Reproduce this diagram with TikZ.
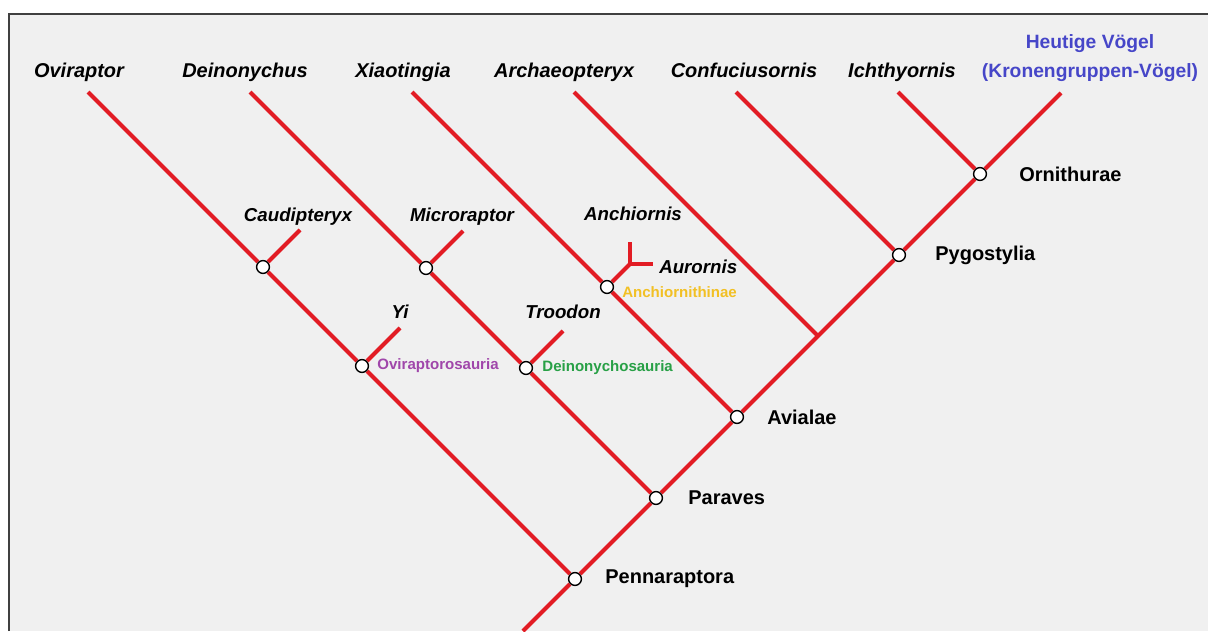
\documentclass[tikz,border=0pt]{standalone}
\usepackage{fontspec}
\setmainfont{Liberation Sans}
\usepackage{xcolor}
\usepackage{tikz}
\usetikzlibrary{positioning,backgrounds}
\definecolor{branchred}{RGB}{226,28,36}
\definecolor{framegray}{RGB}{64,64,64}
\definecolor{panelgray}{RGB}{240,240,240}
\definecolor{crownblue}{RGB}{70,70,200}
\definecolor{ovipurple}{RGB}{160,70,170}
\definecolor{deingreen}{RGB}{40,160,70}
\definecolor{anchyellow}{RGB}{242,192,36}

\begin{document}
\begin{tikzpicture}[x=0.025cm, y=-0.025cm,
  branch/.style={draw=branchred, line width=0.1cm},
  clade/.style={circle, draw=black, fill=white, line width=1pt, minimum size=0.32cm, inner sep=0pt},
  taxon/.style={font=\fontsize{14.2}{17}\selectfont\bfseries\itshape, inner sep=0pt, anchor=base},
  subtaxon/.style={font=\fontsize{13.3}{16}\selectfont\bfseries\itshape, inner sep=0pt, anchor=base},
  cladename/.style={font=\fontsize{14.2}{17}\selectfont\bfseries, inner sep=0pt},
  grouplabel/.style={font=\fontsize{10.7}{13}\selectfont\bfseries, inner sep=0pt}]
  \useasboundingbox (0,0) rectangle (1208,631);

  % main line
  \coordinate (root) at (523,631);
  \node[clade] (penna) at (575,579) {};
  \node[clade] (paraves) at (656,498) {};
  \node[clade] (avialae) at (737,417) {};
  \coordinate (archj) at (818,336);
  \node[clade] (pygo) at (899,255) {};
  \node[clade] (orni) at (980,174) {};
  \coordinate (crown) at (1061,93);

  % side clades
  \node[clade] (caud) at (263,267) {};
  \node[clade] (yi) at (362,366) {};
  \node[clade] (micro) at (426,268) {};
  \node[clade] (troo) at (526,368) {};
  \node[clade] (anch) at (607,287) {};

  \coordinate (ovitip) at (88,92);
  \coordinate (deintip) at (250,92);
  \coordinate (xiaotip) at (412,92);
  \coordinate (archtip) at (574,92);
  \coordinate (conftip) at (736,92);
  \coordinate (ichtip) at (898,92);
  \coordinate (caudtip) at (300,230);
  \coordinate (yitip) at (400,328);
  \coordinate (microtip) at (463,231);
  \coordinate (trootip) at (563,331);
  \coordinate (fork) at (630,264);
  \coordinate (anchtip) at (630,242);
  \coordinate (aurtip) at (653,264);

  % taxa on top
  \node[taxon] (ovilab) at (79,77) {Oviraptor};
  \node[taxon] (deinlab) at (245,77) {Deinonychus};
  \node[taxon] (xiaolab) at (403,77) {Xiaotingia};
  \node[taxon] (archlab) at (564,77) {Archaeopteryx};
  \node[taxon] (conflab) at (744,77) {Confuciusornis};
  \node[taxon] (ichlab) at (902,77) {Ichthyornis};
  \node[cladename, font=\fontsize{13.7}{20}\selectfont\bfseries, text=crownblue, align=center]
    (crownlab) at (1090,58) {Heutige Vögel\\(Kronengruppen-Vögel)};

  \node[subtaxon] (caudlab) at (298,221) {Caudipteryx};
  \node[subtaxon] (microlab) at (462,221) {Microraptor};
  \node[subtaxon] (anchlab) at (633,220) {Anchiornis};
  \node[subtaxon] (yilab) at (400,318) {Yi};
  \node[subtaxon] (troolab) at (563,318) {Troodon};
  \node[subtaxon, anchor=base west] (aurlab) at (659,273) {Aurornis};

  \node[cladename, right=0.575cm of penna] (pennalab) {Pennaraptora};
  \node[cladename, right=0.625cm of paraves] (paraveslab) {Paraves};
  \node[cladename, right=0.575cm of avialae] (avialaelab) {Avialae};
  \node[cladename, right=0.725cm of pygo] (pygolab) {Pygostylia};
  \node[cladename, right=0.8cm of orni] (ornilab) {Ornithurae};

  \node[grouplabel, text=ovipurple, right=0.2cm of yi] (ovigrp) {Oviraptorosauria};
  \node[grouplabel, text=deingreen, right=0.225cm of troo] (deingrp) {Deinonychosauria};
  \node[grouplabel, text=anchyellow, anchor=base west] (anchgrp) at (622,297) {Anchiornithinae};

  \begin{scope}[on background layer]
    \fill[white] (0,0) rectangle (1208,631);
    \fill[panelgray] (9,14) rectangle (1208,631);
    \draw[framegray, line width=0.05cm] (9,631) -- (9,14) -- (1208,14);

    \draw[branch] (root) -- (penna) -- (paraves) -- (avialae) -- (archj) -- (pygo) -- (orni) -- (crown);
    \draw[branch] (penna) -- (yi) -- (caud) -- (ovitip);
    \draw[branch] (paraves) -- (troo) -- (micro) -- (deintip);
    \draw[branch] (avialae) -- (anch) -- (xiaotip);
    \draw[branch] (archj) -- (archtip);
    \draw[branch] (pygo) -- (conftip);
    \draw[branch] (orni) -- (ichtip);
    \draw[branch] (caud) -- (caudtip);
    \draw[branch] (yi) -- (yitip);
    \draw[branch] (micro) -- (microtip);
    \draw[branch] (troo) -- (trootip);
    \draw[branch] (anch) -- (fork);
    \draw[branch] (anchtip) -- (fork) -- (aurtip);
  \end{scope}
\end{tikzpicture}
\end{document}
